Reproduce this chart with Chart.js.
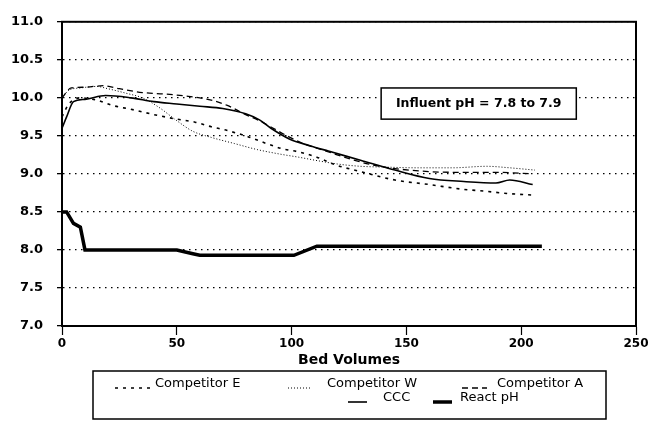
<!DOCTYPE html>
<html>
<head>
<meta charset="utf-8">
<script src="https://cdn.jsdelivr.net/npm/chart.js@4.4.0/dist/chart.umd.min.js"></script>
<style>
html, body { margin:0; padding:0; background:#fff; }
</style>
</head>
<body>
<canvas id="myChart" width="658" height="424"></canvas>
<script>
// bed volumes / pH readings per product
var xE = [0, 3, 8, 15, 22, 30, 40, 50, 58, 65, 72, 81, 89, 96, 103, 111, 119, 130, 145, 160, 174, 185, 195, 206];
var yE = [9.75, 9.92, 10.0, 9.97, 9.9, 9.85, 9.78, 9.72, 9.68, 9.62, 9.57, 9.49, 9.4, 9.33, 9.29, 9.22, 9.12, 9.03, 8.92, 8.86, 8.8, 8.77, 8.74, 8.72];

var xW = [0, 3, 8, 15, 20, 28, 35, 42, 50, 57, 65, 75, 85, 95, 103, 112, 120, 130, 140, 155, 170, 185, 195, 206];
var yW = [10.0, 10.1, 10.13, 10.15, 10.12, 10.06, 10.0, 9.88, 9.7, 9.56, 9.48, 9.4, 9.32, 9.26, 9.22, 9.17, 9.13, 9.1, 9.09, 9.08, 9.08, 9.1, 9.08, 9.05];

var xA = [0, 4, 10, 18, 25, 35, 45, 55, 65, 72, 80, 86, 92, 98, 105, 115, 125, 135, 145, 160, 175, 190, 205];
var yA = [10.0, 10.13, 10.14, 10.16, 10.12, 10.07, 10.05, 10.02, 9.97, 9.9, 9.78, 9.7, 9.6, 9.5, 9.4, 9.3, 9.2, 9.12, 9.07, 9.03, 9.02, 9.02, 9.0];

var xCCC = [0, 2, 5, 10, 19, 30, 40, 50, 60, 70, 80, 86, 91, 99, 108, 116, 130, 145, 160, 175, 189, 195, 205];
var yCCC = [9.6, 9.75, 9.95, 9.98, 10.03, 10.0, 9.95, 9.92, 9.89, 9.86, 9.79, 9.71, 9.6, 9.46, 9.37, 9.3, 9.18, 9.05, 8.94, 8.9, 8.88, 8.92, 8.86];

var xReact = [0, 2, 5, 8, 10, 50, 57, 60, 101, 111, 209];
var yReact = [8.5, 8.5, 8.35, 8.3, 8.0, 8.0, 7.95, 7.93, 7.93, 8.05, 8.05];

var seriesNames = ['Competitor E', 'Competitor W', 'Competitor A', 'CCC', 'React pH'];
var yTicks = [7.0, 7.5, 8.0, 8.5, 9.0, 9.5, 10.0, 10.5, 11.0];
var xTicks = [0, 50, 100, 150, 200, 250];
var noteText = 'Influent pH = 7.8 to 7.9';
var noteBox = {x1: 139, x2: 224, y1: 10.13, y2: 9.72};

function pts(xs, ys) {
    return xs.map(function (x, i) { return {x: x, y: ys[i]}; });
}

var styles = [
    {dash: [3, 5], width: 1.6, smooth: true},
    {dash: [1, 2], width: 1, smooth: true},
    {dash: [6, 4], width: 1.3, smooth: true},
    {dash: [], width: 1.6, smooth: true},
    {dash: [], width: 3.5, smooth: false}
];
var seriesData = [pts(xE, yE), pts(xW, yW), pts(xA, yA), pts(xCCC, yCCC), pts(xReact, yReact)];

var datasets = seriesData.map(function (d, i) {
    return {
        label: seriesNames[i],
        data: d,
        borderColor: '#000',
        backgroundColor: '#000',
        borderWidth: styles[i].width,
        borderDash: styles[i].dash,
        pointRadius: 0,
        fill: false,
        cubicInterpolationMode: styles[i].smooth ? 'monotone' : 'default',
        tension: 0
    };
});

var extras = {
    id: 'extras',
    afterDatasetsDraw: function (chart) {
        var ctx = chart.ctx, a = chart.chartArea;
        var xs = chart.scales.x, ys = chart.scales.y;
        ctx.save();
        // frame
        ctx.strokeStyle = '#000';
        ctx.lineWidth = 2;
        ctx.strokeRect(a.left, a.top, a.right - a.left, a.bottom - a.top);

        // influent note
        var bx = xs.getPixelForValue(noteBox.x1), bx2 = xs.getPixelForValue(noteBox.x2);
        var by = ys.getPixelForValue(noteBox.y1), by2 = ys.getPixelForValue(noteBox.y2);
        ctx.fillStyle = '#fff';
        ctx.fillRect(bx, by, bx2 - bx, by2 - by);
        ctx.lineWidth = 1.5;
        ctx.strokeRect(bx, by, bx2 - bx, by2 - by);
        ctx.fillStyle = '#000';
        ctx.font = 'bold 12.5px "DejaVu Sans"';
        ctx.textAlign = 'center';
        ctx.textBaseline = 'middle';
        ctx.fillText(noteText, (bx + bx2) / 2, (by + by2) / 2);

        // legend box
        ctx.lineWidth = 1.5;
        ctx.strokeRect(93, 371, 513, 48);
        var spots = [
            {sx: 115, ex: 152, tx: 155, y: 384},
            {sx: 288, ex: 312, tx: 327, y: 384},
            {sx: 462, ex: 487, tx: 497, y: 384},
            {sx: 348, ex: 367, tx: 383, y: 398},
            {sx: 433, ex: 452, tx: 460, y: 398}
        ];
        ctx.font = '13px "DejaVu Sans"';
        ctx.textAlign = 'left';
        chart.data.datasets.forEach(function (ds, i) {
            var s = spots[i];
            ctx.beginPath();
            ctx.setLineDash(ds.borderDash);
            ctx.lineWidth = ds.borderWidth;
            ctx.moveTo(s.sx, s.y + 4);
            ctx.lineTo(s.ex, s.y + 4);
            ctx.stroke();
            ctx.setLineDash([]);
            ctx.fillText(ds.label, s.tx, s.y);
        });
        ctx.restore();
    }
};

var ctx = document.getElementById('myChart').getContext('2d');
var chart = new Chart(ctx, {
    type: 'line',
    data: {datasets: datasets},
    plugins: [extras],
    options: {
        responsive: false,
        animation: false,
        layout: {padding: {top: 19, right: 22, bottom: 53, left: 0}},
        plugins: {legend: {display: false}, tooltip: {enabled: false}},
        scales: {
            x: {
                type: 'linear',
                min: 0, max: 250,
                afterBuildTicks: function (s) { s.ticks = xTicks.map(function (v) { return {value: v}; }); },
                afterFit: function (s) { s.height = 45; },
                grid: {drawOnChartArea: false, color: '#000', tickLength: 9, tickWidth: 1.2},
                border: {color: '#000', width: 2},
                ticks: {color: '#000', padding: 2, maxRotation: 0, font: {family: 'DejaVu Sans', size: 12, weight: 'bold'}},
                title: {display: true, text: 'Bed Volumes', color: '#000', padding: {top: 0, bottom: 2},
                        font: {family: 'DejaVu Sans', size: 14, weight: 'bold'}}
            },
            y: {
                min: 7, max: 11,
                afterBuildTicks: function (s) { s.ticks = yTicks.map(function (v) { return {value: v}; }); },
                afterFit: function (s) { s.width = 62; },
                grid: {color: '#000', lineWidth: 1.3, tickLength: 5, tickBorderDash: []},
                border: {color: '#000', width: 2, dash: [1.5, 4.5]},
                ticks: {color: '#000', padding: 14,
                        callback: function (v) { return v.toFixed(1); },
                        font: {family: 'DejaVu Sans', size: 13, weight: 'bold'}}
            }
        }
    }
});
</script>
</body>
</html>
